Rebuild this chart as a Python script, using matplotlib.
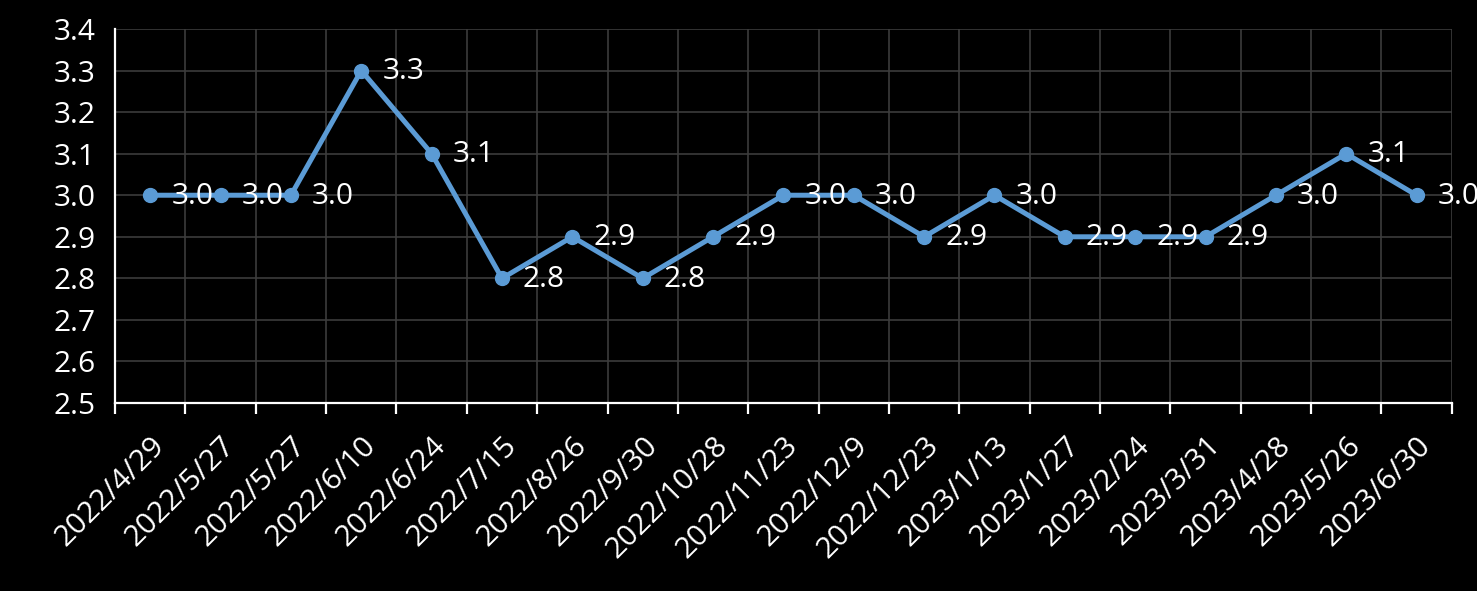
import matplotlib
matplotlib.use("Agg")
import matplotlib.pyplot as plt
import numpy as np

# Dates and values
dates = ['2022/4/29', '2022/5/27', '2022/5/27', '2022/6/10', '2022/6/24',
         '2022/7/15', '2022/8/26', '2022/9/30', '2022/10/28', '2022/11/23',
         '2022/12/9', '2022/12/23', '2023/1/13', '2023/1/27', '2023/2/24',
         '2023/3/31', '2023/4/28', '2023/5/26', '2023/6/30']
values = [3.0, 3.0, 3.0, 3.3, 3.1, 2.8, 2.9, 2.8, 2.9, 3.0,
          3.0, 2.9, 3.0, 2.9, 2.9, 2.9, 3.0, 3.1, 3.0]
y_ticks = [2.5, 2.6, 2.7, 2.8, 2.9, 3.0, 3.1, 3.2, 3.3, 3.4]

plt.rcParams['font.family'] = ['Open Sans', 'DejaVu Sans']

fig = plt.figure(figsize=(14.77, 5.91), dpi=100, facecolor='black')
ax = fig.add_axes([0.0779, 0.318, 0.905, 0.633])
ax.set_facecolor('black')

x = np.arange(len(dates))
line_color = '#5B9BD5'
ax.plot(x, values, color=line_color, linewidth=3.6, marker='o', markersize=10, zorder=3)

# Data labels to the right of each point
for xi, v in zip(x, values):
    ax.annotate(f'{v:.1f}', (xi, v), xytext=(21, -1), textcoords='offset pixels',
                ha='left', va='center', color='white', fontsize=21.5, zorder=4)

ax.set_xlim(-0.5, len(dates) - 0.5)
ax.set_ylim(2.5, 3.4)
ax.set_yticks(y_ticks)
ax.set_yticklabels([f'{t:.1f}' for t in y_ticks])

# labels at category centres, tick marks at boundaries
ax.set_xticks(x)
ax.set_xticklabels(dates, rotation=45, ha='right', rotation_mode='anchor')
ax.set_xticks(np.arange(-0.5, len(dates)), minor=True)
ax.tick_params(axis='x', which='major', length=0, pad=20, labelsize=21.5, colors='white')
ax.tick_params(axis='x', which='minor', length=8, width=1.6, color='white')
ax.tick_params(axis='y', length=0, pad=14, labelsize=21.5, colors='white')

ax.grid(True, axis='y', color='#3c3c3c', linewidth=1.2)
ax.grid(True, axis='x', which='minor', color='#3c3c3c', linewidth=1.2)
ax.set_axisbelow(True)

for side in ['top', 'right']:
    ax.spines[side].set_visible(False)
ax.spines['left'].set_color('white')
ax.spines['bottom'].set_color('white')
ax.spines['left'].set_linewidth(1.6)
ax.spines['bottom'].set_linewidth(1.6)

fig.savefig('out.png', dpi=100, facecolor='black')
